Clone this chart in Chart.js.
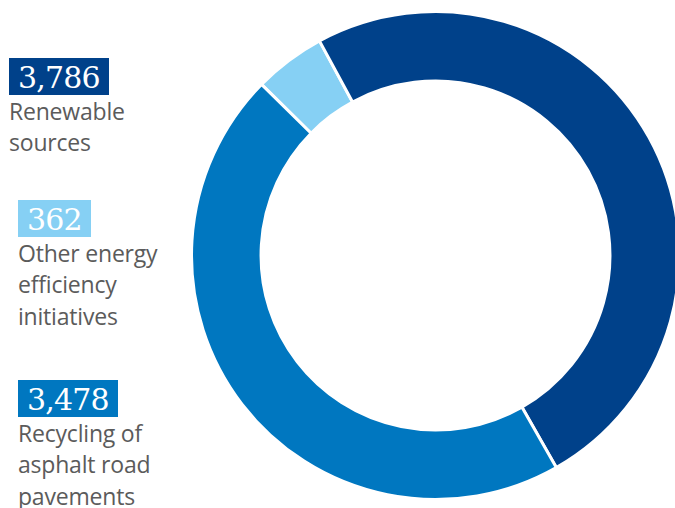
<!DOCTYPE html>
<html>
<head>
<meta charset="utf-8">
<script src="https://cdn.jsdelivr.net/npm/chart.js@4/dist/chart.umd.min.js"></script>
<style>
  html, body { margin: 0; padding: 0; background: #fff; }
  .page { position: relative; width: 675px; height: 508px; overflow: hidden; }
  #donut { position: absolute; left: 190px; top: 10px; }
  .item { position: absolute; font-family: "Open Sans", sans-serif; color: #5b5b5b; font-size: 23px; line-height: 31.5px; letter-spacing: -0.2px; }
  .value { display: inline-block; height: 37px; line-height: 39px; padding: 0 9px; color: #fff;
           font-family: "DejaVu Serif", serif; font-size: 30px; letter-spacing: -0.8px; }
  .label { white-space: pre-line; margin-top: 0px; }
</style>
</head>
<body>
<div class="page">
  <canvas id="donut" width="491" height="491"></canvas>
  <div id="legend"></div>
</div>
<script>
// données dans l'ordre du tracé (sens horaire, en partant de la tranche bleu clair)
const categories = ['Other energy\nefficiency\ninitiatives', 'Renewable\nsources', 'Recycling of\nasphalt road\npavements'];
const values = [362, 3786, 3478];
const colors = ['#86d0f4', '#00418a', '#0077c0'];

// ordre et position de la légende à gauche
const legendOrder = [1, 0, 2];
const legendPos = [[9, 58], [18, 200], [18, 380]];

function buildLegend() {
    const legend = document.getElementById('legend');
    legend.innerHTML = legendOrder.map((idx, i) => `
        <div class="item" style="left:${legendPos[i][0]}px;top:${legendPos[i][1]}px;">
            <span class="value" style="background:${colors[idx]};">${values[idx].toLocaleString('en-US')}</span>
            <div class="label">${categories[idx]}</div>
        </div>
    `).join('');
}

function initChart() {
    const ctx = document.getElementById('donut').getContext('2d');
    const total = values.reduce((a, b) => a + b, 0);
    // la tranche "Renewable" commence à environ -28.4°
    const rotation = -28.4 - values[0] / total * 360;

    new Chart(ctx, {
        type: 'doughnut',
        data: {
            labels: categories,
            datasets: [{
                data: values,
                backgroundColor: colors,
                borderColor: '#ffffff',
                borderWidth: 3,
                hoverBorderWidth: 3,
                hoverOffset: 0
            }]
        },
        options: {
            responsive: false,
            animation: false,
            rotation: rotation,
            cutout: '71.5%',
            layout: { padding: 0 },
            plugins: {
                legend: { display: false },
                tooltip: { enabled: false }
            }
        }
    });
}

buildLegend();
initChart();
</script>
</body>
</html>
